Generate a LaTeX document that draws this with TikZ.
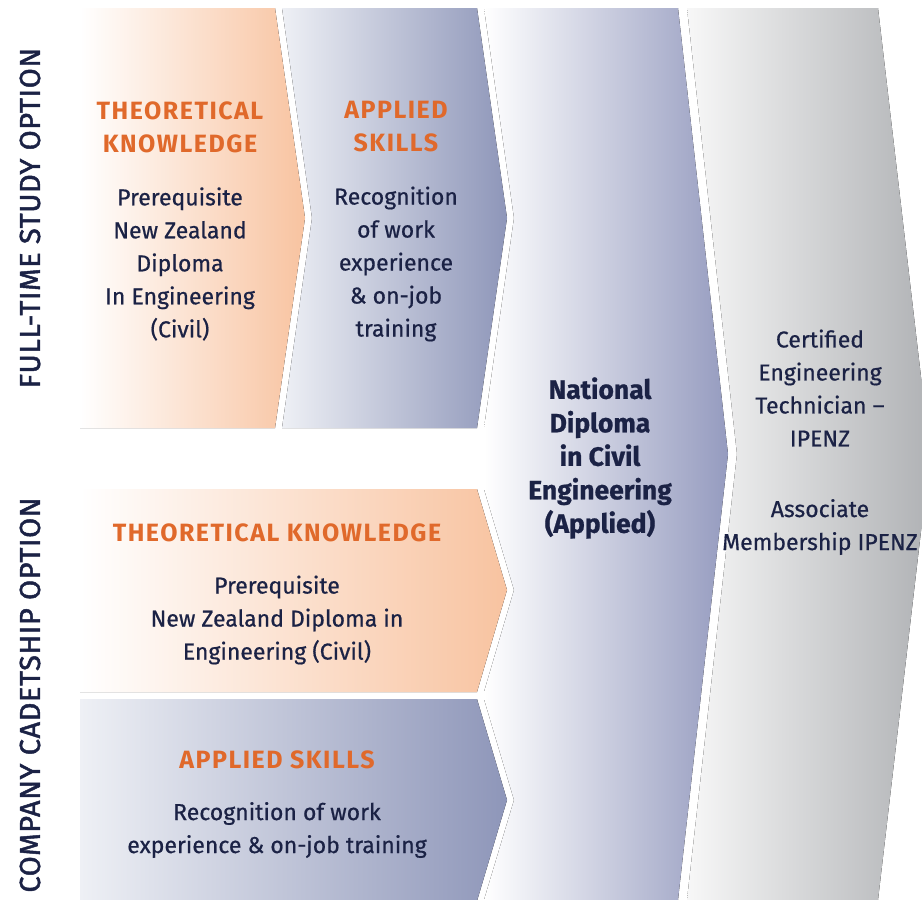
\documentclass[tikz,border=0pt]{standalone}
\usepackage{fontspec}
\setmainfont{Fira Sans}[FakeBold=0.6, BoldFeatures={FakeBold=0.8}]
\newfontfamily\headfont{Fira Sans}[LetterSpace=6]
\newfontfamily\sidefont{Fira Sans}[FakeBold=1.6, LetterSpace=2]
\definecolor{navy}{HTML}{1B2245}
\definecolor{headorange}{HTML}{E0692B}
\definecolor{peach}{HTML}{F8C3A0}
\definecolor{slate}{HTML}{8E96B9}
\definecolor{slatelight}{HTML}{EEF0F5}
\definecolor{midblue}{HTML}{959BBF}
\definecolor{greyend}{HTML}{B0B2B5}
\tikzset{
  orangefill/.style={left color=white, right color=peach},
  bluefill/.style={left color=slatelight, right color=slate},
  midfill/.style={left color=white, right color=midblue},
  greyfill/.style={left color=white!97!black, right color=greyend},
  head/.style={font=\headfont\bfseries\fontsize{25}{33}\selectfont, text=headorange, align=center, inner sep=0pt},
  body/.style={font=\fontsize{23}{33}\selectfont, text=navy, align=center, inner sep=0pt},
  bodybold/.style={font=\bfseries\fontsize{26.5}{33.5}\selectfont, text=navy, align=center, inner sep=0pt},
  side/.style={font=\sidefont\fontsize{29}{30}\selectfont, text=navy, rotate=90, inner sep=0pt}
}
\begin{document}
\begin{tikzpicture}[x=1pt,y=-1pt]
\useasboundingbox (0,0) rectangle (922,900);
\clip (0,0) rectangle (922,900);
% shapes
\fill[greyfill] (687,8) -- (878,8) -- (930,454) -- (878,900) -- (687,900) -- (737,454) -- cycle;
\fill[midfill] (484,8) -- (678,8) -- (728,454) -- (678,900) -- (484,900) -- (514,800) -- (484,699) -- (484,692) -- (514,590) -- (484,489) -- (484,428) -- (514,218) -- cycle;
\fill[orangefill] (80,8) -- (275,8) -- (305,218) -- (275,428) -- (80,428) -- cycle;
\fill[bluefill] (282,8) -- (477,8) -- (507,218) -- (477,428) -- (282,428) -- (312,218) -- cycle;
\fill[orangefill] (80,489) -- (477,489) -- (507,590) -- (477,692) -- (80,692) -- cycle;
\fill[bluefill] (80,699) -- (477,699) -- (507,800) -- (477,901) -- (80,901) -- cycle;
% side labels
\node[side] (ftlabel) at (30,218) {FULL-TIME STUDY OPTION};
\node[side] (cclabel) at (30,695) {COMPANY CADETSHIP OPTION};
% top row
\node[head] (th1) at (180,127) {THEORETICAL\\KNOWLEDGE};
\node[body] (tb1) at (180,264) {Prerequisite\\New Zealand\\Diploma\\In Engineering\\(Civil)};
\node[head] (ah1) at (396,127) {APPLIED\\SKILLS};
\node[body] (ab1) at (396,264) {Recognition\\of work\\experience\\\& on-job\\training};
% middle
\node[bodybold] (nd) at (600,458) {National\\Diploma\\in Civil\\Engineering\\(Applied)};
% grey
\node[body] (cet) at (820,388) {Certified\\Engineering\\Technician --\\IPENZ};
\node[body] (am) at (820,527) {Associate\\Membership IPENZ};
% lower rows
\node[head] (th2) at (277,533) {THEORETICAL KNOWLEDGE};
\node[body] (tb2) at (277,620) {Prerequisite\\New Zealand Diploma in\\Engineering (Civil)};
\node[head] (ah2) at (277,760) {APPLIED SKILLS};
\node[body] (ab2) at (277,830) {Recognition of work\\experience \& on-job training};
\end{tikzpicture}
\end{document}
